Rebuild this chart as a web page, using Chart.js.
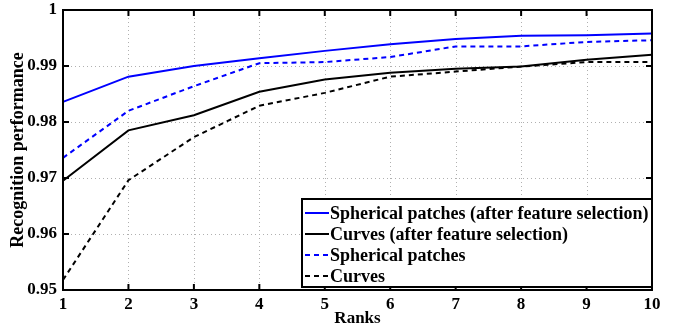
<!DOCTYPE html>
<html lang="en">
<head>
<meta charset="UTF-8">
<title>Recognition performance vs. ranks</title>
<script src="https://cdn.jsdelivr.net/npm/chart.js"></script>
<style>
  html, body { margin: 0; padding: 0; background: #fff; }
</style>
</head>
<body>
<canvas id="rankChart" width="674" height="332"></canvas>
<script>
// Cumulative recognition rate for each rank
const ranks = [1, 2, 3, 4, 5, 6, 7, 8, 9, 10];
const yTicks = [0.95, 0.96, 0.97, 0.98, 0.99, 1];
const patchesSelected = [0.9836, 0.9881, 0.9900, 0.9914, 0.9927, 0.9939, 0.9948, 0.9954, 0.9955, 0.9958];
const curvesSelected  = [0.9695, 0.9785, 0.9812, 0.9854, 0.9876, 0.9888, 0.9895, 0.9899, 0.9911, 0.9920];
const patchesAll      = [0.9736, 0.9820, 0.9864, 0.9905, 0.9907, 0.9916, 0.9935, 0.9935, 0.9943, 0.9946];
const curvesAll       = [0.9518, 0.9696, 0.9773, 0.9829, 0.9852, 0.9881, 0.9890, 0.9899, 0.9907, 0.9907];

const FONT = '"Liberation Serif", "Times New Roman", serif';

// dotted grid behind the lines, matlab-style box with inward ticks on top
const axisFrame = {
  id: 'axisFrame',
  beforeDatasetsDraw(chart) {
    const { ctx, chartArea: a, scales: { x, y } } = chart;
    ctx.save();
    ctx.strokeStyle = '#b0b0b0';
    ctx.lineWidth = 1;
    ctx.setLineDash([1, 3]);
    ctx.beginPath();
    ranks.forEach((r, i) => {
      const px = Math.round(x.getPixelForTick(i)) + 0.5;
      ctx.moveTo(px, a.top);
      ctx.lineTo(px, a.bottom);
    });
    yTicks.forEach(v => {
      const py = Math.round(y.getPixelForValue(v)) + 0.5;
      ctx.moveTo(a.left, py);
      ctx.lineTo(a.right, py);
    });
    ctx.stroke();
    ctx.restore();
  },
  afterDatasetsDraw(chart) {
    const { ctx, chartArea: a, scales: { x, y } } = chart;
    const t = 6;
    ctx.save();
    ctx.strokeStyle = '#000';
    ctx.lineWidth = 2;
    ctx.beginPath();
    ranks.forEach((r, i) => {
      const px = x.getPixelForTick(i);
      ctx.moveTo(px, a.bottom); ctx.lineTo(px, a.bottom - t);
      ctx.moveTo(px, a.top); ctx.lineTo(px, a.top + t);
    });
    yTicks.forEach(v => {
      const py = y.getPixelForValue(v);
      ctx.moveTo(a.left, py); ctx.lineTo(a.left + t, py);
      ctx.moveTo(a.right, py); ctx.lineTo(a.right - t, py);
    });
    ctx.stroke();
    ctx.strokeRect(a.left, a.top, a.right - a.left, a.bottom - a.top);
    ctx.restore();
  }
};

// legend box in the lower right corner of the plot
const insetLegend = {
  id: 'insetLegend',
  afterDraw(chart) {
    const { ctx, chartArea: a } = chart;
    const w = 350, h = 88;
    const left = a.right - w, top = a.bottom - h - 3;
    ctx.save();
    ctx.fillStyle = '#fff';
    ctx.fillRect(left, top, w, h);
    ctx.strokeStyle = '#000';
    ctx.lineWidth = 2;
    ctx.strokeRect(left, top, w, h);
    ctx.font = 'bold 18px ' + FONT;
    ctx.textBaseline = 'middle';
    chart.data.datasets.forEach((ds, i) => {
      const cy = top + 14 + i * 21;
      ctx.strokeStyle = ds.borderColor;
      ctx.lineWidth = 2;
      ctx.setLineDash(ds.borderDash || []);
      ctx.beginPath();
      ctx.moveTo(left + 3, cy);
      ctx.lineTo(left + 27, cy);
      ctx.stroke();
      ctx.setLineDash([]);
      ctx.fillStyle = '#000';
      ctx.fillText(ds.label, left + 28, cy + 1);
    });
    ctx.restore();
  }
};

const line = (label, data, color, dash) => ({
  label, data,
  borderColor: color,
  borderWidth: 2,
  borderDash: dash,
  pointRadius: 0,
  tension: 0,
  fill: false
});

new Chart(document.getElementById('rankChart'), {
  type: 'line',
  data: {
    labels: ranks,
    datasets: [
      line('Spherical patches (after feature selection)', patchesSelected, '#0000ff', []),
      line('Curves (after feature selection)', curvesSelected, '#000000', []),
      line('Spherical patches', patchesAll, '#0000ff', [5, 4]),
      line('Curves', curvesAll, '#000000', [5, 4])
    ]
  },
  options: {
    responsive: false,
    animation: false,
    layout: { padding: { left: 0, right: 22, top: 10, bottom: 0 } },
    plugins: { legend: { display: false }, tooltip: { enabled: false } },
    scales: {
      x: {
        type: 'category',
        offset: false,
        grid: { display: false, drawTicks: false },
        border: { display: false },
        ticks: { color: '#000', padding: 4, maxRotation: 0, autoSkip: false, font: { family: FONT, size: 17, weight: 'bold' } },
        title: { display: true, text: 'Ranks', color: '#000', padding: { top: 0, bottom: 3 }, font: { family: FONT, size: 17, weight: 'bold' } },
        afterFit(scale) {
          scale.height = 42;
          scale.paddingLeft = 0;
          scale.paddingRight = 0;
        }
      },
      y: {
        min: 0.95,
        max: 1,
        grid: { display: false, drawTicks: false },
        border: { display: false },
        afterBuildTicks(scale) { scale.ticks = yTicks.map(v => ({ value: v })); },
        ticks: {
          color: '#000', padding: 6,
          font: { family: FONT, size: 17, weight: 'bold' },
          callback: v => String(Number(v.toFixed(2)))
        },
        title: { display: true, text: 'Recognition performance', color: '#000', padding: { top: 8, bottom: 0 }, font: { family: FONT, size: 18, weight: 'bold' } },
        afterFit(scale) {
          scale.width = 63;
          scale.paddingTop = 0;
          scale.paddingBottom = 0;
        }
      }
    }
  },
  plugins: [axisFrame, insetLegend]
});
</script>
</body>
</html>
